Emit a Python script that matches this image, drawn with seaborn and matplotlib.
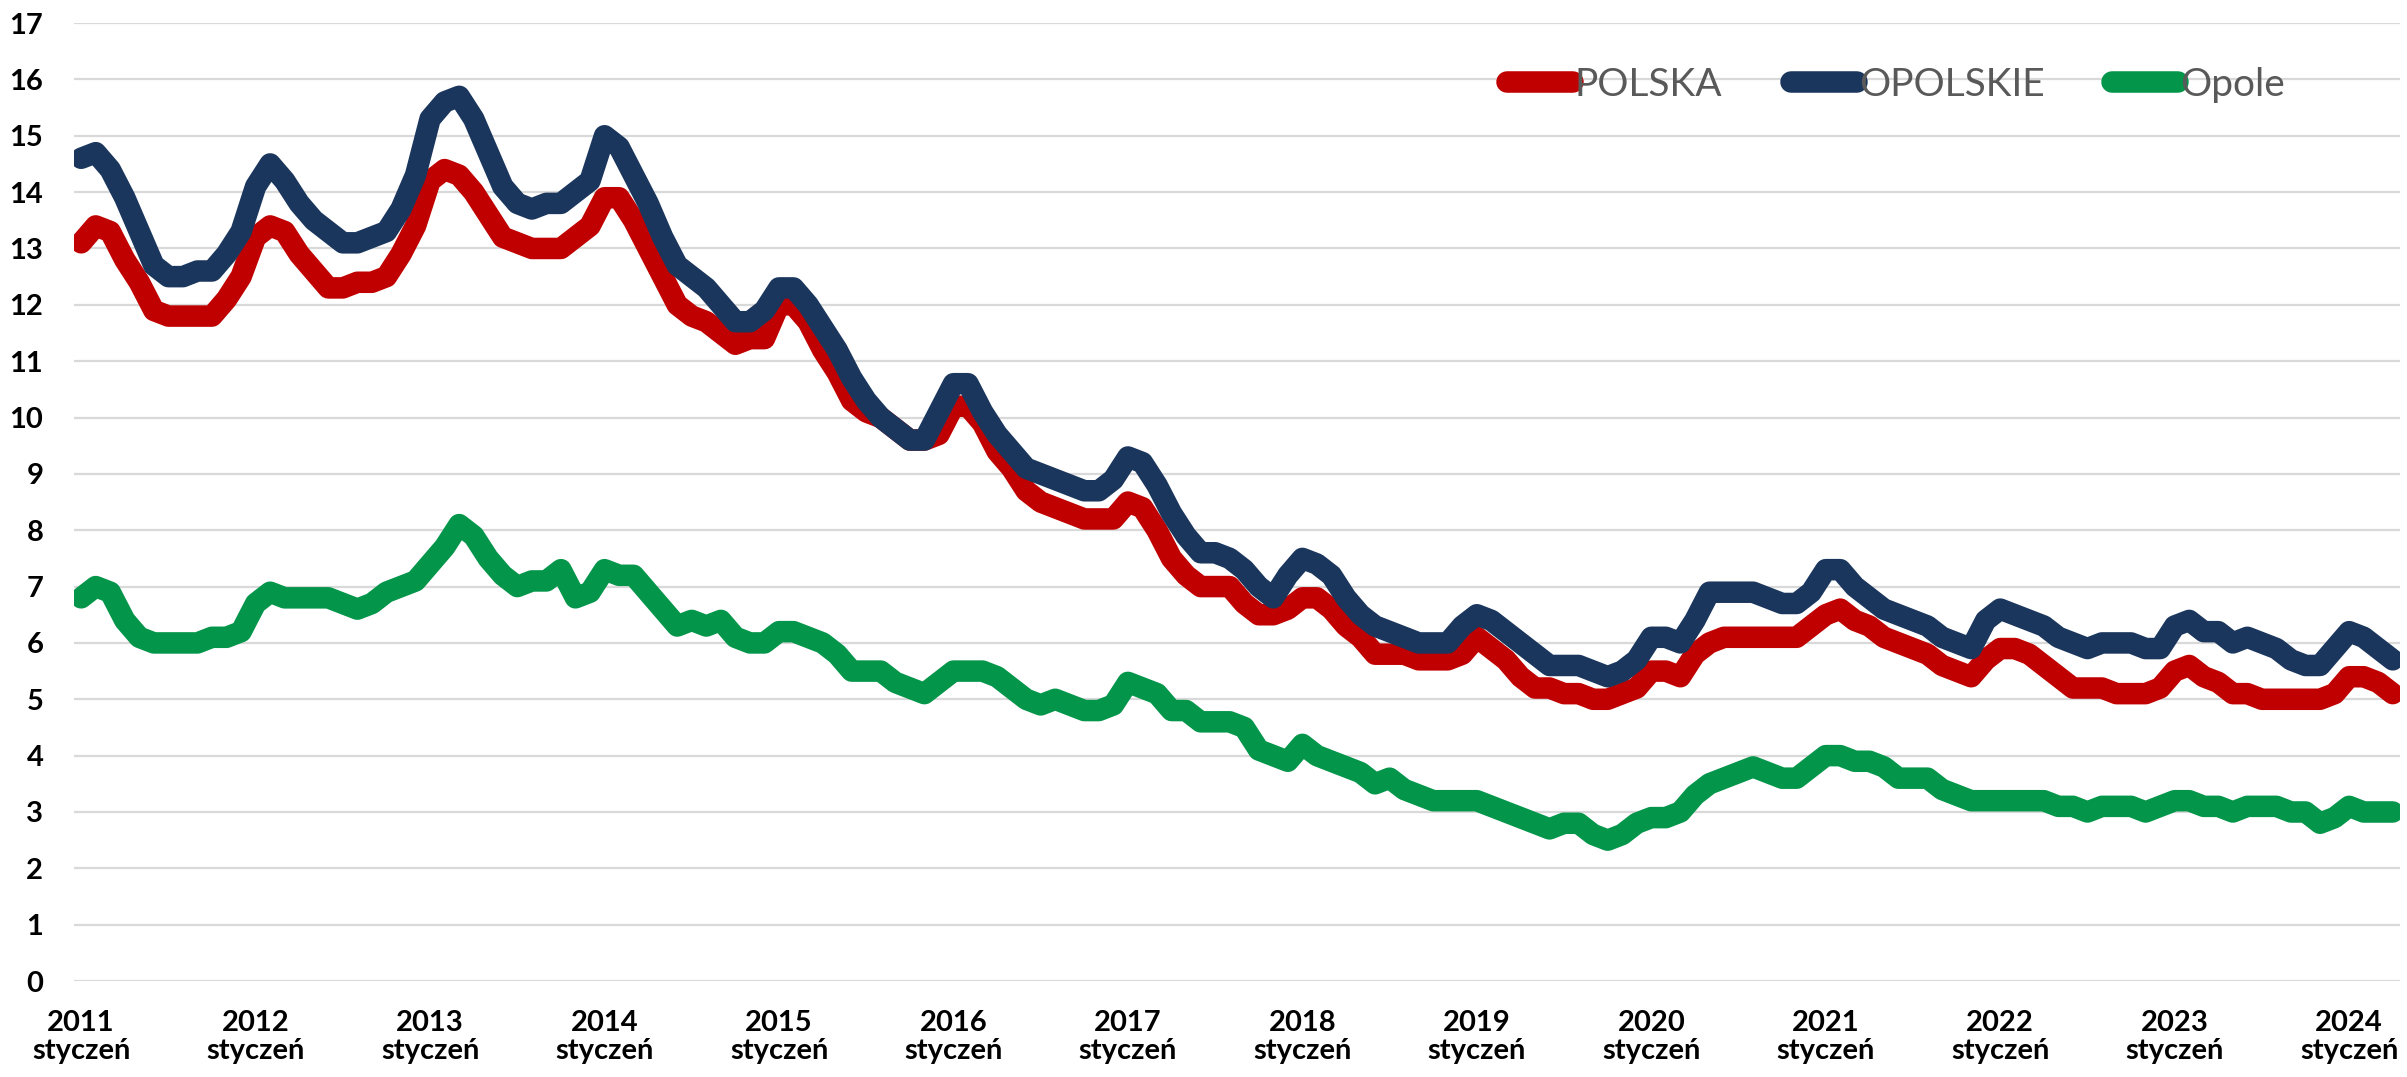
import numpy as np
import pandas as pd
import seaborn as sns
import matplotlib
matplotlib.use("Agg")
import matplotlib.pyplot as plt

# monthly values, Jan 2011 .. Apr 2024
years = list(range(2011, 2025))
series_names = ["POLSKA", "OPOLSKIE", "Opole"]
series_colors = ["#C00000", "#1B365D", "#03954A"]

polska = [
    13.1, 13.4, 13.3, 12.8, 12.4, 11.9, 11.8, 11.8, 11.8, 11.8, 12.1, 12.5,
    13.2, 13.4, 13.3, 12.9, 12.6, 12.3, 12.3, 12.4, 12.4, 12.5, 12.9, 13.4,
    14.2, 14.4, 14.3, 14.0, 13.6, 13.2, 13.1, 13.0, 13.0, 13.0, 13.2, 13.4,
    13.9, 13.9, 13.5, 13.0, 12.5, 12.0, 11.8, 11.7, 11.5, 11.3, 11.4, 11.4,
    12.0, 12.0, 11.7, 11.2, 10.8, 10.3, 10.1, 10.0, 9.8, 9.6, 9.6, 9.7,
    10.2, 10.2, 9.9, 9.4, 9.1, 8.7, 8.5, 8.4, 8.3, 8.2, 8.2, 8.2,
    8.5, 8.4, 8.0, 7.5, 7.2, 7.0, 7.0, 7.0, 6.7, 6.5, 6.5, 6.6,
    6.8, 6.8, 6.6, 6.3, 6.1, 5.8, 5.8, 5.8, 5.7, 5.7, 5.7, 5.8,
    6.1, 5.9, 5.7, 5.4, 5.2, 5.2, 5.1, 5.1, 5.0, 5.0, 5.1, 5.2,
    5.5, 5.5, 5.4, 5.8, 6.0, 6.1, 6.1, 6.1, 6.1, 6.1, 6.1, 6.3,
    6.5, 6.6, 6.4, 6.3, 6.1, 6.0, 5.9, 5.8, 5.6, 5.5, 5.4, 5.7,
    5.9, 5.9, 5.8, 5.6, 5.4, 5.2, 5.2, 5.2, 5.1, 5.1, 5.1, 5.2,
    5.5, 5.6, 5.4, 5.3, 5.1, 5.1, 5.0, 5.0, 5.0, 5.0, 5.0, 5.1,
    5.4, 5.4, 5.3, 5.1,
]

opolskie = [
    14.6, 14.7, 14.4, 13.9, 13.3, 12.7, 12.5, 12.5, 12.6, 12.6, 12.9, 13.3,
    14.1, 14.5, 14.2, 13.8, 13.5, 13.3, 13.1, 13.1, 13.2, 13.3, 13.7, 14.3,
    15.3, 15.6, 15.7, 15.3, 14.7, 14.1, 13.8, 13.7, 13.8, 13.8, 14.0, 14.2,
    15.0, 14.8, 14.3, 13.8, 13.2, 12.7, 12.5, 12.3, 12.0, 11.7, 11.7, 11.9,
    12.3, 12.3, 12.0, 11.6, 11.2, 10.7, 10.3, 10.0, 9.8, 9.6, 9.6, 10.1,
    10.6, 10.6, 10.1, 9.7, 9.4, 9.1, 9.0, 8.9, 8.8, 8.7, 8.7, 8.9,
    9.3, 9.2, 8.8, 8.3, 7.9, 7.6, 7.6, 7.5, 7.3, 7.0, 6.8, 7.2,
    7.5, 7.4, 7.2, 6.8, 6.5, 6.3, 6.2, 6.1, 6.0, 6.0, 6.0, 6.3,
    6.5, 6.4, 6.2, 6.0, 5.8, 5.6, 5.6, 5.6, 5.5, 5.4, 5.5, 5.7,
    6.1, 6.1, 6.0, 6.4, 6.9, 6.9, 6.9, 6.9, 6.8, 6.7, 6.7, 6.9,
    7.3, 7.3, 7.0, 6.8, 6.6, 6.5, 6.4, 6.3, 6.1, 6.0, 5.9, 6.4,
    6.6, 6.5, 6.4, 6.3, 6.1, 6.0, 5.9, 6.0, 6.0, 6.0, 5.9, 5.9,
    6.3, 6.4, 6.2, 6.2, 6.0, 6.1, 6.0, 5.9, 5.7, 5.6, 5.6, 5.9,
    6.2, 6.1, 5.9, 5.7,
]

opole = [
    6.8, 7.0, 6.9, 6.4, 6.1, 6.0, 6.0, 6.0, 6.0, 6.1, 6.1, 6.2,
    6.7, 6.9, 6.8, 6.8, 6.8, 6.8, 6.7, 6.6, 6.7, 6.9, 7.0, 7.1,
    7.4, 7.7, 8.1, 7.9, 7.5, 7.2, 7.0, 7.1, 7.1, 7.3, 6.8, 6.9,
    7.3, 7.2, 7.2, 6.9, 6.6, 6.3, 6.4, 6.3, 6.4, 6.1, 6.0, 6.0,
    6.2, 6.2, 6.1, 6.0, 5.8, 5.5, 5.5, 5.5, 5.3, 5.2, 5.1, 5.3,
    5.5, 5.5, 5.5, 5.4, 5.2, 5.0, 4.9, 5.0, 4.9, 4.8, 4.8, 4.9,
    5.3, 5.2, 5.1, 4.8, 4.8, 4.6, 4.6, 4.6, 4.5, 4.1, 4.0, 3.9,
    4.2, 4.0, 3.9, 3.8, 3.7, 3.5, 3.6, 3.4, 3.3, 3.2, 3.2, 3.2,
    3.2, 3.1, 3.0, 2.9, 2.8, 2.7, 2.8, 2.8, 2.6, 2.5, 2.6, 2.8,
    2.9, 2.9, 3.0, 3.3, 3.5, 3.6, 3.7, 3.8, 3.7, 3.6, 3.6, 3.8,
    4.0, 4.0, 3.9, 3.9, 3.8, 3.6, 3.6, 3.6, 3.4, 3.3, 3.2, 3.2,
    3.2, 3.2, 3.2, 3.2, 3.1, 3.1, 3.0, 3.1, 3.1, 3.1, 3.0, 3.1,
    3.2, 3.2, 3.1, 3.1, 3.0, 3.1, 3.1, 3.1, 3.0, 3.0, 2.8, 2.9,
    3.1, 3.0, 3.0, 3.0,
]

months = np.arange(len(polska))
df = pd.concat([
    pd.DataFrame({"m": months, "val": vals, "series": name})
    for name, vals in zip(series_names, [polska, opolskie, opole])
], ignore_index=True)

sns.set_theme(style="white")
plt.rcParams["font.family"] = ["Lato", "DejaVu Sans"]

fig = plt.figure(figsize=(24.07, 10.77), dpi=100)
ax = fig.add_axes([0.0307, 0.0891, 0.9664, 0.8895])

sns.lineplot(data=df, x="m", y="val", hue="series", hue_order=series_names,
             palette=series_colors, linewidth=15.5, sort=False, legend=False, ax=ax)
for line in ax.get_lines():
    line.set_solid_capstyle("round")
    line.set_solid_joinstyle("round")

ax.set_xlim(-0.5, len(polska) - 0.5)
ax.set_ylim(0, 17)
ax.set_yticks(range(0, 18))
ax.grid(axis="y", color="#D9D9D9", linewidth=1.6)
ax.grid(axis="x", visible=False)
ax.set_axisbelow(True)
for sp in ax.spines.values():
    sp.set_visible(False)

ax.set_xticks(months[::12])
ax.set_xticklabels([f"{y}\nstyczeń" for y in years], fontsize=21, fontweight="bold",
                   linespacing=1.1)
ax.set_yticklabels([str(v) for v in range(0, 18)], fontsize=21, fontweight="bold")
ax.tick_params(axis="x", length=0, pad=21, colors="black")
ax.tick_params(axis="y", length=0, pad=22, colors="black")
ax.set_xlabel("")
ax.set_ylabel("")

handles = ax.get_lines()[:3]
leg = ax.legend(handles, series_names, loc="center", bbox_to_anchor=(0.7877, 0.921),
                bbox_transform=fig.transFigure, ncol=3, frameon=False, fontsize=28,
                handlelength=1.7, handletextpad=0.05, columnspacing=1.75,
                labelcolor="#595959")
for lh in leg.get_lines():
    lh.set_solid_capstyle("round")

fig.savefig("out.png", dpi=100)
